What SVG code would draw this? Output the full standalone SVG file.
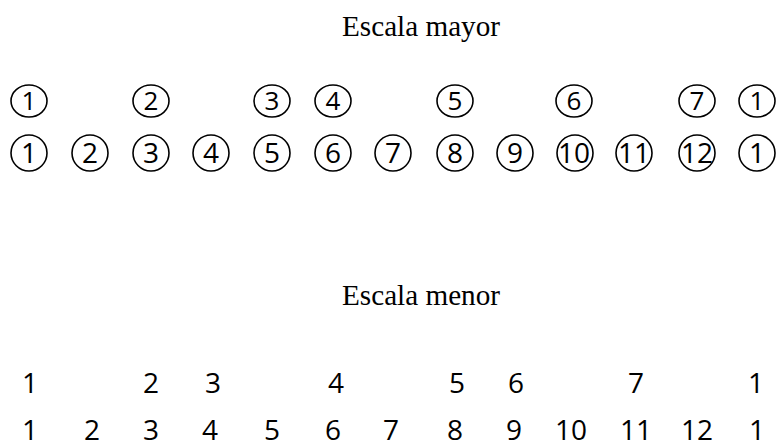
<svg xmlns="http://www.w3.org/2000/svg" width="776" height="443" viewBox="0 0 776 443">
<style>
.t{font-family:"Liberation Serif","DejaVu Serif",serif;font-size:29px;fill:#000;text-anchor:middle}
.a{font-family:"Open Sans","DejaVu Sans",sans-serif;font-size:26px;fill:#000;text-anchor:middle}
.n{font-family:"Open Sans","DejaVu Sans",sans-serif;font-size:28px;fill:#000;text-anchor:middle}
.c{fill:none;stroke:#000;stroke-width:1.6}
</style>
<rect width="776" height="443" fill="#fff"/>
<g id="titulo-mayor"><text class="t" x="421" y="36" textLength="158" lengthAdjust="spacingAndGlyphs">Escala mayor</text></g>
<g id="mayor-fila1">
<g id="m1-1"><ellipse class="c" cx="29" cy="101" rx="18" ry="16"/><text class="a" x="29" y="110">1</text></g>
<g id="m1-2"><ellipse class="c" cx="151" cy="101" rx="18" ry="16"/><text class="a" x="151" y="110">2</text></g>
<g id="m1-3"><ellipse class="c" cx="272" cy="101" rx="18" ry="16"/><text class="a" x="272" y="110">3</text></g>
<g id="m1-4"><ellipse class="c" cx="333" cy="101" rx="18" ry="16"/><text class="a" x="333" y="110">4</text></g>
<g id="m1-5"><ellipse class="c" cx="455" cy="101" rx="18" ry="16"/><text class="a" x="455" y="110">5</text></g>
<g id="m1-6"><ellipse class="c" cx="574" cy="101" rx="18" ry="16"/><text class="a" x="574" y="110">6</text></g>
<g id="m1-7"><ellipse class="c" cx="697" cy="101" rx="18" ry="16"/><text class="a" x="697" y="110">7</text></g>
<g id="m1-8"><ellipse class="c" cx="757" cy="101" rx="18" ry="16"/><text class="a" x="757" y="110">1</text></g>
</g>
<g id="mayor-fila2">
<g id="m2-1"><ellipse class="c" cx="29" cy="153" rx="18" ry="18"/><text class="n" x="29" y="163">1</text></g>
<g id="m2-2"><ellipse class="c" cx="90" cy="153" rx="18" ry="18"/><text class="n" x="90" y="163">2</text></g>
<g id="m2-3"><ellipse class="c" cx="151" cy="153" rx="18" ry="18"/><text class="n" x="151" y="163">3</text></g>
<g id="m2-4"><ellipse class="c" cx="211" cy="153" rx="18" ry="18"/><text class="n" x="211" y="163">4</text></g>
<g id="m2-5"><ellipse class="c" cx="272" cy="153" rx="18" ry="18"/><text class="n" x="272" y="163">5</text></g>
<g id="m2-6"><ellipse class="c" cx="333" cy="153" rx="18" ry="18"/><text class="n" x="333" y="163">6</text></g>
<g id="m2-7"><ellipse class="c" cx="393" cy="153" rx="18" ry="18"/><text class="n" x="393" y="163">7</text></g>
<g id="m2-8"><ellipse class="c" cx="455" cy="153" rx="18" ry="18"/><text class="n" x="455" y="163">8</text></g>
<g id="m2-9"><ellipse class="c" cx="515" cy="153" rx="18" ry="18"/><text class="n" x="515" y="163">9</text></g>
<g id="m2-10"><ellipse class="c" cx="575" cy="153" rx="18" ry="18"/><text class="n" x="574" y="163">10</text></g>
<g id="m2-11"><ellipse class="c" cx="634" cy="153" rx="18" ry="18"/><text class="n" x="634" y="163">11</text></g>
<g id="m2-12"><ellipse class="c" cx="697" cy="153" rx="18" ry="18"/><text class="n" x="697" y="163">12</text></g>
<g id="m2-13"><ellipse class="c" cx="757" cy="153" rx="18" ry="18"/><text class="n" x="757" y="163">1</text></g>
</g>
<g id="titulo-menor"><text class="t" x="421" y="305" textLength="158" lengthAdjust="spacingAndGlyphs">Escala menor</text></g>
<g id="menor-fila1">
<text class="n" x="30" y="393">1</text>
<text class="n" x="151" y="393">2</text>
<text class="n" x="213" y="393">3</text>
<text class="n" x="336" y="393">4</text>
<text class="n" x="457" y="393">5</text>
<text class="n" x="516" y="393">6</text>
<text class="n" x="636" y="393">7</text>
<text class="n" x="756" y="393">1</text>
</g>
<g id="menor-fila2">
<text class="n" x="30" y="440">1</text>
<text class="n" x="92" y="440">2</text>
<text class="n" x="151" y="440">3</text>
<text class="n" x="210" y="440">4</text>
<text class="n" x="272" y="440">5</text>
<text class="n" x="333" y="440">6</text>
<text class="n" x="391" y="440">7</text>
<text class="n" x="455" y="440">8</text>
<text class="n" x="514" y="440">9</text>
<text class="n" x="571" y="440">10</text>
<text class="n" x="636" y="440">11</text>
<text class="n" x="697" y="440">12</text>
<text class="n" x="757" y="440">1</text>
</g>
<g id="conectores"/>
</svg>
